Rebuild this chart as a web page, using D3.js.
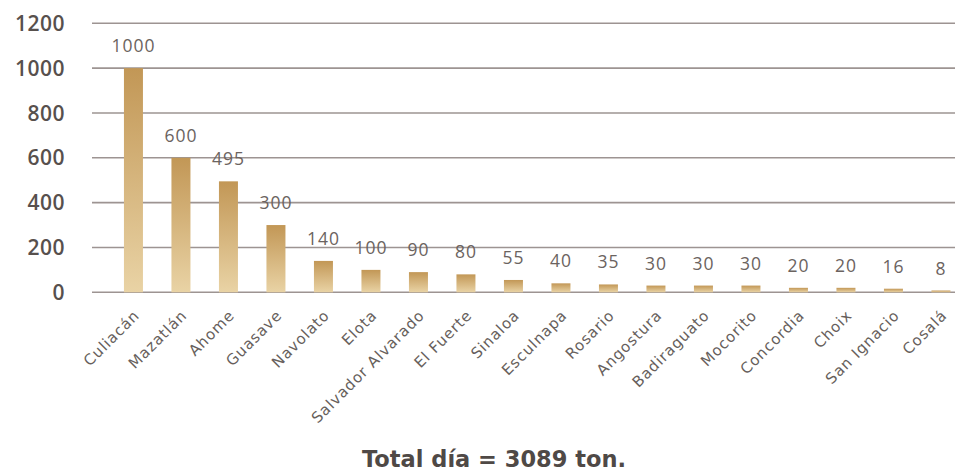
<!DOCTYPE html>
<html>
<head>
<meta charset="utf-8">
<script src="https://cdn.jsdelivr.net/npm/d3@7/dist/d3.min.js"></script>
<style>
  html, body { margin: 0; padding: 0; background: #fff; }
  svg { display: block; }
</style>
</head>
<body>
<div id="chart"></div>
<script>
// datos: toneladas por municipio
const municipios = ["Culiacán", "Mazatlán", "Ahome", "Guasave", "Navolato", "Elota",
  "Salvador Alvarado", "El Fuerte", "Sinaloa", "Esculnapa", "Rosario", "Angostura",
  "Badiraguato", "Mocorito", "Concordia", "Choix", "San Ignacio", "Cosalá"];
const toneladas = [1000, 600, 495, 300, 140, 100, 90, 80, 55, 40, 35, 30, 30, 30, 20, 20, 16, 8];
const yTicks = [0, 200, 400, 600, 800, 1000, 1200];
const titulo = "Total día = 3089 ton.";

const width = 955, height = 473;

const svg = d3.select("#chart").append("svg")
  .attr("width", width)
  .attr("height", height);

// degradado dorado de las barras
const grad = svg.append("defs").append("linearGradient")
  .attr("id", "oro")
  .attr("x1", 0).attr("y1", 0).attr("x2", 0).attr("y2", 1);
grad.append("stop").attr("offset", "0%").attr("stop-color", "#c29756");
grad.append("stop").attr("offset", "100%").attr("stop-color", "#e9d3a5");

const y = d3.scaleLinear().domain([0, 1200]).range([292.3, 23.3]);

const x = d3.scaleBand()
  .domain(municipios)
  .range([109.7, 109.7 + 47.5 * municipios.length])
  .paddingInner(0.6)
  .paddingOuter(0.3);

// lineas de la cuadricula
svg.append("g")
  .selectAll("line")
  .data(yTicks)
  .join("line")
  .attr("x1", 92)
  .attr("x2", width)
  .attr("y1", d => y(d))
  .attr("y2", d => y(d))
  .attr("stroke", "#9d9492")
  .attr("stroke-width", 1.6);

// etiquetas eje y
svg.append("g")
  .selectAll("text")
  .data(yTicks)
  .join("text")
  .attr("x", 65)
  .attr("y", d => y(d))
  .attr("dy", "0.36em")
  .attr("text-anchor", "end")
  .style("font-family", "'Open Sans', sans-serif")
  .style("font-weight", 600)
  .style("font-size", "21px")
  .style("letter-spacing", "0.5px")
  .style("fill", "#57504d")
  .text(d => d);

// barras
svg.append("g")
  .selectAll("rect")
  .data(toneladas)
  .join("rect")
  .attr("x", (d, i) => x(municipios[i]))
  .attr("width", x.bandwidth())
  .attr("y", d => y(d))
  .attr("height", d => y(0) - y(d))
  .attr("fill", "url(#oro)");

// valores sobre las barras
svg.append("g")
  .selectAll("text")
  .data(toneladas)
  .join("text")
  .attr("x", (d, i) => x(municipios[i]) + x.bandwidth() / 2)
  .attr("y", d => y(d) - 16)
  .attr("text-anchor", "middle")
  .style("font-family", "'Open Sans', sans-serif")
  .style("font-size", "17.5px")
  .style("letter-spacing", "1px")
  .style("fill", "#6b6360")
  .text(d => d);

// nombres de municipios, girados
svg.append("g")
  .selectAll("text")
  .data(municipios)
  .join("text")
  .attr("transform", d => `translate(${x(d) + x.bandwidth() / 2 + 7},${y(0) + 24}) rotate(-45)`)
  .attr("text-anchor", "end")
  .style("font-family", "'DejaVu Sans', sans-serif")
  .style("font-size", "15px")
  .style("letter-spacing", "0.9px")
  .style("fill", "#675f5c")
  .text(d => d);

// total
svg.append("text")
  .attr("x", 494)
  .attr("y", 467)
  .attr("text-anchor", "middle")
  .style("font-family", "'DejaVu Sans', sans-serif")
  .style("font-weight", "bold")
  .style("font-size", "22.5px")
  .style("fill", "#4f4946")
  .text(titulo);
</script>
</body>
</html>
